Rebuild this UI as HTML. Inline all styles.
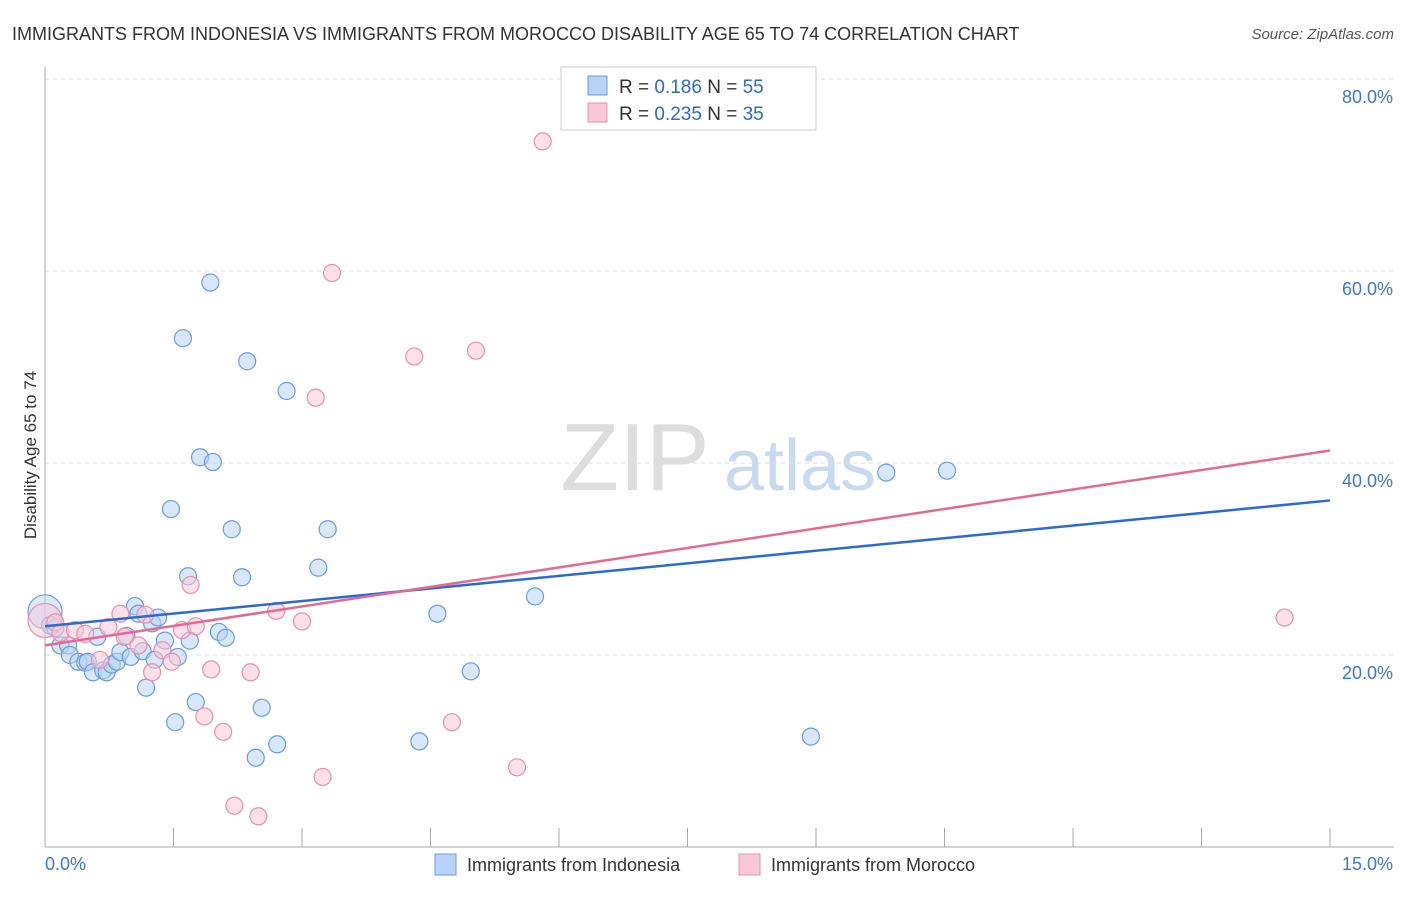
<!DOCTYPE html>
<html><head><meta charset="utf-8"><style>
body{margin:0;background:#fff;font-family:"Liberation Sans",sans-serif;}
svg text{font-family:"Liberation Sans",sans-serif;}
</style></head><body>
<svg id="chart" width="1406" height="892">
<text x="12" y="40" font-size="18" fill="#333">IMMIGRANTS FROM INDONESIA VS IMMIGRANTS FROM MOROCCO DISABILITY AGE 65 TO 74 CORRELATION CHART</text>
<text x="1394" y="39" font-size="15" fill="#555" text-anchor="end" font-style="italic">Source: ZipAtlas.com</text>
<text x="36" y="455" font-size="17" fill="#333" text-anchor="middle" transform="rotate(-90 36 455)">Disability Age 65 to 74</text>
<g><text x="635" y="490" font-size="96" fill="#ddd" font-family="Liberation Serif" text-anchor="middle">ZIP</text><text x="800" y="490" font-size="72" fill="#c9d9ef" text-anchor="middle">atlas</text></g>
<g id="grid"></g><g id="axes"></g><g id="marks"></g>
<g>
<rect x="561" y="67" width="255" height="63" fill="#fff" stroke="#ccc"/>
<rect x="588" y="76" width="19" height="19" fill="#b8d3f5" stroke="#6a9ee0"/>
<rect x="588" y="103" width="19" height="19" fill="#f9c8d6" stroke="#e890ae"/>
<text x="619" y="93" font-size="19" fill="#333">R = <tspan fill="#2a6bd1">0.186</tspan>   N = <tspan fill="#2a6bd1">55</tspan></text>
<text x="619" y="120" font-size="19" fill="#333">R = <tspan fill="#2a6bd1">0.235</tspan>   N = <tspan fill="#2a6bd1">35</tspan></text>
</g>
<g>
<rect x="435" y="854" width="21" height="21" fill="#b8d3f5" stroke="#6a9ee0"/>
<text x="467" y="871" font-size="18" fill="#333">Immigrants from Indonesia</text>
<rect x="739" y="854" width="21" height="21" fill="#f9c8d6" stroke="#e890ae"/>
<text x="771" y="871" font-size="18" fill="#333">Immigrants from Morocco</text>
</g>
</svg>
<script>
const blueX=[0,.06,.12,.18,.27,.29,.39,.47,.50,.56,.61,.68,.72,.78,.84,.88,.95,1.00,1.05,1.09,1.14,1.18,1.25,1.28,1.32,1.40,1.47,1.52,1.55,1.61,1.67,1.69,1.76,1.81,1.93,1.96,2.03,2.11,2.18,2.30,2.36,2.46,2.53,2.71,2.82,3.19,3.30,4.37,4.58,4.97,5.72,8.94,9.82,10.53];
const blueY=[24.5,23.1,22.8,21.0,21.0,20.0,19.3,19.2,19.3,18.2,21.9,18.4,18.2,19.0,19.3,20.3,22.0,19.8,25.1,24.3,20.4,16.6,23.3,19.5,23.9,21.5,35.2,13.0,19.8,53.0,28.2,21.5,15.1,40.6,58.8,40.1,22.4,21.8,33.1,28.1,50.6,9.3,14.5,10.7,47.5,29.1,33.1,11.0,24.3,18.3,26.1,11.5,39.0,39.2];
const pinkX=[0,.12,.18,.35,.47,.64,.74,.88,.93,1.09,1.17,1.25,1.37,1.48,1.60,1.70,1.76,1.86,1.94,2.08,2.21,2.40,2.49,2.70,3.00,3.16,3.24,3.35,4.31,4.75,5.03,5.51,5.81,14.47];
const pinkY=[23.6,23.4,22.3,22.6,22.2,19.5,22.9,24.3,21.9,21.0,24.2,18.2,20.5,19.3,22.6,27.3,23.0,13.6,18.5,12.0,4.3,18.2,3.2,24.6,23.5,46.8,7.3,59.8,51.1,13.0,51.7,8.3,73.5,23.9];
const blueTrend=[23.0,36.1];
const pinkTrend=[21.0,41.3];
const yTicks=[20,40,60,80];
const xTicks=[0,1.5,3,4.5,6,7.5,9,10.5,12,13.5,15];
const NS='http://www.w3.org/2000/svg';
const sx=v=>45+v/15*1285, sy=v=>847-v*9.6;
function mk(t,a,p){const e=document.createElementNS(NS,t);for(const k in a)e.setAttribute(k,a[k]);document.getElementById(p).appendChild(e);return e;}
yTicks.forEach(v=>{
 const g=mk('line',{x1:45,x2:1394,y1:sy(v),y2:sy(v),stroke:'#ddd','stroke-dasharray':'4,4'},'grid');
 
 
 const t=mk('text',{x:1393,y:sy(v)+24,'font-size':18,fill:'#3a78d6','text-anchor':'end'},'axes');t.textContent=v.toFixed(1)+'%';
 
 
});
const ax=mk('line',{x1:45,x2:45,y1:67,y2:847,stroke:'#aaa'},'axes');


const bx=mk('line',{x1:45,x2:1394,y1:847,y2:847,stroke:'#aaa'},'axes');


xTicks.forEach(v=>{const l=mk('line',{x1:sx(v),x2:sx(v),y1:828,y2:847,stroke:'#aaa'},'axes');
 
 });
[[0,'0.0%',45,'start'],[15,'15.0%',1393,'end']].forEach(a=>{const t=mk('text',{x:a[2],y:870,'font-size':18,fill:'#3a78d6','text-anchor':a[3]},'axes');t.textContent=a[1];
 
 });
function pts(X,Y,f,s,name){X.forEach((x,i)=>{const c=mk('circle',{cx:sx(x),cy:sy(Y[i]),r:i==0?17:8.5,fill:f,'fill-opacity':i==0?0.5:0.55,stroke:s,'stroke-width':1.2},'marks');
 
 });}
pts(blueX,blueY,'#b8d3f5','#6a9ee0','point-indonesia');
pts(pinkX,pinkY,'#f9c8d6','#e890ae','point-morocco');
const bl=mk('line',{x1:sx(0),y1:sy(blueTrend[0]),x2:sx(15),y2:sy(blueTrend[1]),stroke:'#2a6bd1','stroke-width':2.5},'marks');


const pl=mk('line',{x1:sx(0),y1:sy(pinkTrend[0]),x2:sx(15),y2:sy(pinkTrend[1]),stroke:'#e46a93','stroke-width':2.5},'marks');


</script>
</body></html>
